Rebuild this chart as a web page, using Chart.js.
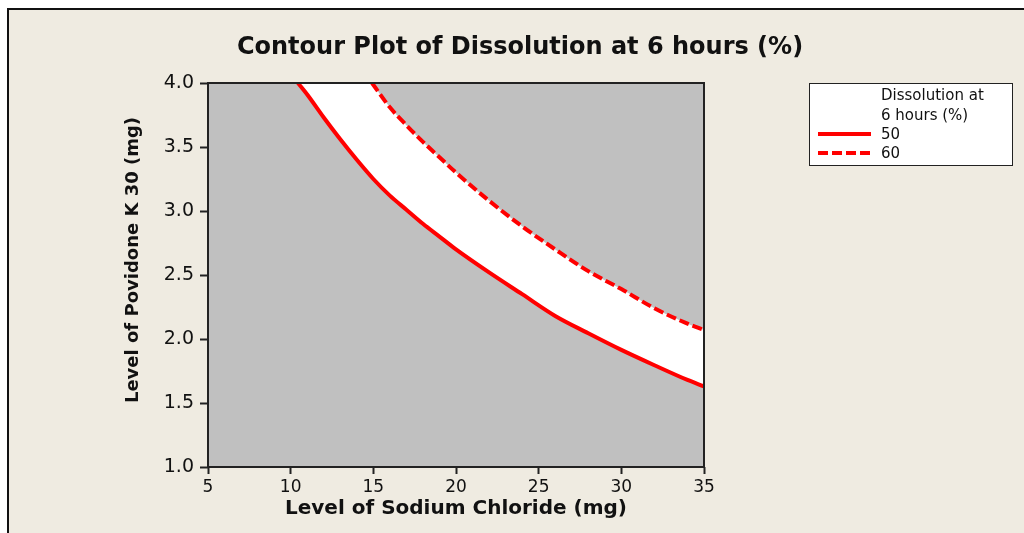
<!DOCTYPE html>
<html>
<head>
<meta charset="utf-8">
<title>Contour Plot of Dissolution at 6 hours (%)</title>
<script src="https://cdn.jsdelivr.net/npm/chart.js@4.4.1/dist/chart.umd.min.js"></script>
<style>
  html, body { margin: 0; padding: 0; background: #ffffff; }
  canvas { display: block; }
</style>
</head>
<body>
<canvas id="chart" width="1024" height="533"></canvas>
<script>
// ---- Text ----
const chartTitle = 'Contour Plot of Dissolution at 6 hours (%)';
const xAxisTitle = 'Level of Sodium Chloride (mg)';
const yAxisTitle = 'Level of Povidone K 30 (mg)';
const legendTitle = ['Dissolution at', '6 hours (%)'];
const contourLevels = ['50', '60'];

// ---- Contour lines: sodium chloride (x) vs povidone K 30 (y) ----
const nacl50 = [10.44, 11, 12, 13, 14, 15, 16, 17, 18, 19, 20, 22, 24, 26, 28, 30, 32, 34, 35];
const pvp50  = [4.00, 3.91, 3.73, 3.56, 3.40, 3.25, 3.12, 3.01, 2.90, 2.80, 2.70, 2.52, 2.35, 2.18, 2.045, 1.915, 1.795, 1.68, 1.63];

const nacl60 = [14.92, 16, 17, 18, 19, 20, 22, 24, 26, 28, 30, 32, 34, 35];
const pvp60  = [4.00, 3.81, 3.67, 3.54, 3.42, 3.30, 3.08, 2.88, 2.70, 2.53, 2.39, 2.24, 2.12, 2.07];

// ---- Axis ticks ----
const xTicks = [5, 10, 15, 20, 25, 30, 35];
const yTicks = [1.0, 1.5, 2.0, 2.5, 3.0, 3.5, 4.0];
const yTickLabels = ['1.0', '1.5', '2.0', '2.5', '3.0', '3.5', '4.0'];

const toPoints = (xs, ys) => xs.map((x, i) => ({ x: x, y: ys[i] }));

const FONT = "'DejaVu Sans', Verdana, sans-serif";
const INK = '#111111';

// Page frame, plot background, plot border, titles and legend box
const decorPlugin = {
  id: 'decor',
  beforeDraw(chart) {
    const { ctx, chartArea: a, width, height } = chart;
    ctx.save();
    ctx.fillStyle = '#ffffff';
    ctx.fillRect(0, 0, width, height);
    ctx.fillStyle = '#efebe1';
    ctx.fillRect(8, 9, width - 8, height - 9);
    ctx.fillStyle = '#111111';
    ctx.fillRect(7, 8, width - 7, 2);
    ctx.fillRect(7, 8, 2, height - 8);
    ctx.fillStyle = '#c0c0c0';
    ctx.fillRect(a.left, a.top, a.right - a.left, a.bottom - a.top);
    ctx.restore();
  },
  afterDraw(chart) {
    const { ctx, chartArea: a } = chart;
    ctx.save();
    // plot border
    ctx.strokeStyle = '#222222';
    ctx.lineWidth = 2;
    ctx.strokeRect(a.left, a.top, a.right - a.left, a.bottom - a.top);

    // chart title
    ctx.fillStyle = INK;
    ctx.font = "bold 24px " + FONT;
    ctx.textAlign = 'center';
    ctx.textBaseline = 'middle';
    ctx.fillText(chartTitle, 520, 48);

    // vertical axis title
    ctx.save();
    ctx.translate(133, 260);
    ctx.rotate(-Math.PI / 2);
    ctx.font = "bold 18px " + FONT;
    ctx.fillText(yAxisTitle, 0, 0);
    ctx.restore();

    // legend
    const bx = 809, by = 83, bw = 203, bh = 82;
    ctx.fillStyle = '#ffffff';
    ctx.fillRect(bx, by, bw, bh);
    ctx.strokeStyle = '#222222';
    ctx.lineWidth = 1;
    ctx.strokeRect(bx + 0.5, by + 0.5, bw, bh);

    ctx.font = "15px " + FONT;
    ctx.fillStyle = INK;
    ctx.textAlign = 'left';
    ctx.textBaseline = 'middle';
    legendTitle.forEach((t, i) => ctx.fillText(t, 881, 96 + i * 20));

    chart.data.datasets.forEach((ds, i) => {
      const y = 134 + i * 19;
      ctx.strokeStyle = ds.borderColor;
      ctx.lineWidth = ds.borderWidth;
      ctx.setLineDash(ds.borderDash || []);
      ctx.beginPath();
      ctx.moveTo(818, y);
      ctx.lineTo(871, y);
      ctx.stroke();
      ctx.setLineDash([]);
      ctx.fillStyle = INK;
      ctx.fillText(ds.label, 881, y + 1);
    });
    ctx.restore();
  }
};

new Chart(document.getElementById('chart'), {
  type: 'line',
  data: {
    datasets: [
      {
        label: contourLevels[0],
        data: toPoints(nacl50, pvp50),
        borderColor: '#ff0000',
        borderWidth: 4,
        pointRadius: 0,
        cubicInterpolationMode: 'monotone',
        fill: 'end',
        backgroundColor: '#ffffff',
        clip: 0,
        order: 1
      },
      {
        label: contourLevels[1],
        data: toPoints(nacl60, pvp60),
        borderColor: '#ff0000',
        borderWidth: 4,
        borderDash: [10, 4],
        pointRadius: 0,
        cubicInterpolationMode: 'monotone',
        fill: 'end',
        backgroundColor: '#c0c0c0',
        clip: 0,
        order: 0
      }
    ]
  },
  options: {
    responsive: false,
    animation: false,
    events: [],
    layout: { padding: { left: 0, right: 320, top: 83, bottom: 0 } },
    plugins: {
      legend: { display: false },
      title: { display: false },
      tooltip: { enabled: false }
    },
    scales: {
      x: {
        type: 'linear',
        position: 'bottom',
        min: 5,
        max: 35,
        afterFit: s => { s.height = 66; },
        afterBuildTicks: s => { s.ticks = xTicks.map(v => ({ value: v })); },
        border: { display: false },
        grid: { display: true, drawOnChartArea: false, drawTicks: true, tickLength: 7, tickColor: '#222222', tickWidth: 2 },
        ticks: {
          autoSkip: false, maxRotation: 0, padding: 3,
          color: INK, font: { family: FONT, size: 17 },
          callback: v => String(v)
        },
        title: {
          display: true, text: xAxisTitle, color: INK,
          font: { family: FONT, size: 20, weight: 'bold' },
          padding: { top: 0, bottom: 12 }
        }
      },
      y: {
        type: 'linear',
        position: 'left',
        min: 1,
        max: 4,
        afterFit: s => { s.width = 208; },
        afterBuildTicks: s => { s.ticks = yTicks.map(v => ({ value: v })); },
        border: { display: false },
        grid: { display: true, drawOnChartArea: false, drawTicks: true, tickLength: 8, tickColor: '#222222', tickWidth: 2 },
        ticks: {
          autoSkip: false, padding: 6,
          color: INK, font: { family: FONT, size: 19 },
          callback: (v) => yTickLabels[yTicks.indexOf(v)]
        },
        title: { display: false }
      }
    }
  },
  plugins: [decorPlugin]
});
</script>
</body>
</html>
